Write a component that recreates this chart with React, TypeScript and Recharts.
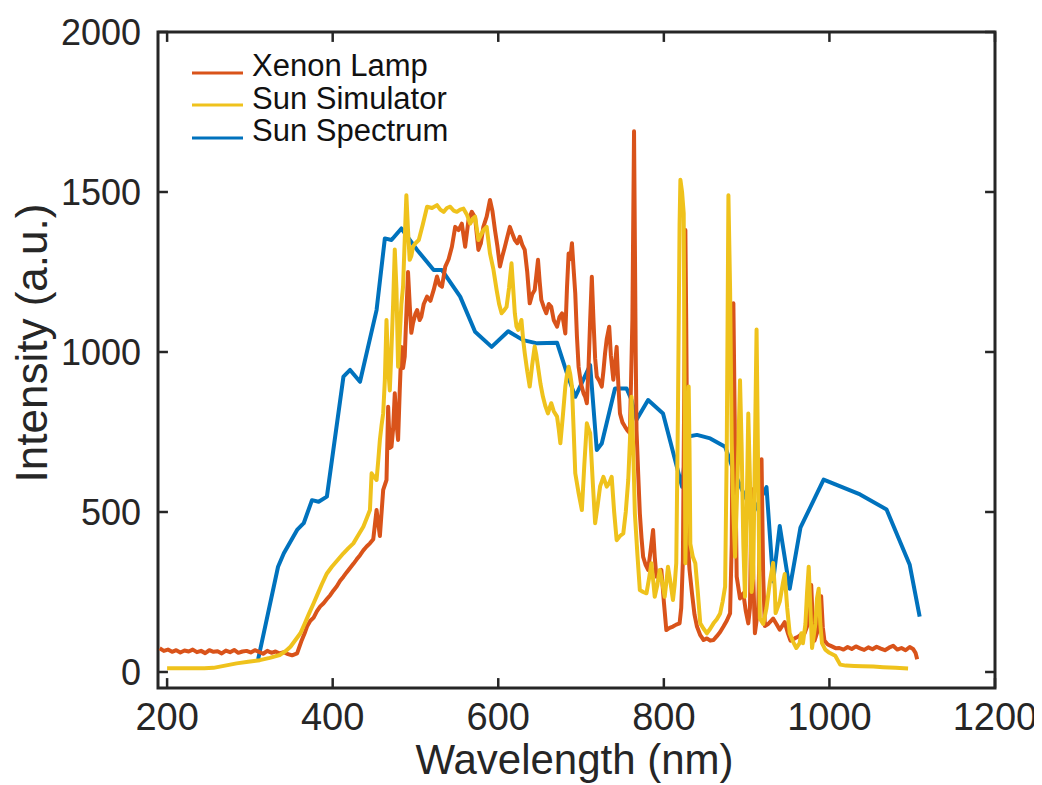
import React from 'react';
import { LineChart, Line, XAxis, YAxis, ReferenceArea, ReferenceLine, Legend } from 'recharts';

// wavelength (nm) / intensity (a.u.)
const xenonWl = [
  191, 196, 201, 206, 211, 216, 221, 226, 231, 236, 241, 246, 251, 256, 261, 266, 271, 276, 281, 286,
  291, 296, 301, 306, 311, 316, 321, 326, 331, 336, 341, 346, 351, 357, 362, 366, 369, 373, 377, 381,
  385, 389, 393, 397, 401, 405, 409, 413, 417, 421, 425, 429, 433, 437, 441, 445, 449, 453, 457, 461,
  465, 467, 469, 471, 473, 475, 477, 479, 481, 483, 485, 487, 489, 491, 493, 495, 497, 500, 502, 505,
  507, 510, 514, 518, 522, 526, 529, 532, 536, 540, 544, 548, 552, 556, 560, 564, 568, 572, 576, 579,
  582, 586, 590, 593, 596, 599, 602, 605, 608, 611, 614, 617, 620, 623, 626, 629, 632, 635, 638, 641,
  644, 646, 648, 650, 652, 655, 658, 661, 664, 667, 671, 674, 677, 679, 681, 683, 685, 687, 689, 691,
  693, 695, 697, 700, 703, 705, 707, 709, 711, 713, 715, 717, 719, 722, 725, 727, 729, 731, 734, 736,
  739, 741, 743, 745, 747, 750, 753, 756, 759, 762, 764, 766, 767, 769, 771, 773, 775, 778, 781, 784,
  787, 789, 791, 794, 797, 800, 803, 807, 811, 815, 819, 821, 823, 825, 826, 827, 829, 831, 834, 837,
  840, 844, 848, 852, 856, 860, 864, 868, 872, 876, 880, 882, 884, 886, 888, 892, 896, 899, 902, 904,
  906, 908, 910, 914, 918, 920, 922, 926, 932, 936, 940, 946, 950, 953, 958, 962, 966, 970, 974, 978,
  980, 982, 986, 990, 992, 994, 998, 1003, 1008, 1012, 1017, 1022, 1027, 1032, 1037, 1042, 1047, 1052, 1057, 1062,
  1067, 1072, 1077, 1082, 1087, 1092, 1097, 1101, 1104, 1106,
];
const xenonI = [
  74, 66, 70, 63, 68, 61, 67, 64, 70, 62, 66, 59, 68, 63, 65, 58, 67, 62, 69, 60,
  64, 66, 61, 68, 63, 57, 66, 60, 64, 58, 62, 56, 52, 58, 95, 120, 142, 160, 170, 190,
  205, 215, 228, 240, 255, 268, 285, 298, 312, 325, 338, 352, 365, 380, 392, 402, 415, 506, 425, 569,
  600, 829, 700, 704, 760, 871, 780, 725, 880, 1016, 950, 985, 1120, 1250, 1150, 1060, 1090, 1120, 1131, 1100,
  1110, 1150, 1173, 1160, 1194, 1236, 1210, 1204, 1267, 1290, 1329, 1391, 1381, 1401, 1329, 1412, 1438, 1420, 1319, 1340,
  1391, 1423, 1475, 1440, 1381, 1330, 1267, 1300, 1329, 1360, 1391, 1370, 1350, 1340, 1360, 1335, 1319, 1250, 1152, 1180,
  1194, 1240, 1288, 1220, 1163, 1140, 1121, 1150, 1141, 1100, 1079, 1110, 1121, 1090, 1058, 1200, 1308, 1290, 1340, 1260,
  1183, 1050, 954, 900, 871, 860, 840, 950, 1100, 1235, 1100, 980, 923, 910, 892, 940, 996, 1040, 1079, 990,
  913, 960, 1016, 900, 808, 780, 767, 755, 746, 1100, 1690, 1000, 756, 620, 496, 420, 360, 335, 319, 380,
  444, 360, 298, 305, 319, 220, 131, 138, 142, 148, 152, 200, 350, 1000, 1381, 1100, 400, 320, 246, 180,
  142, 115, 100, 105, 98, 100, 112, 125, 142, 160, 183, 400, 1152, 700, 298, 230, 246, 190, 152, 200,
  572, 300, 121, 200, 665, 300, 144, 150, 167, 150, 132, 156, 120, 98, 105, 110, 118, 121, 150, 272,
  150, 98, 130, 237, 140, 98, 86, 80, 74, 75, 70, 78, 72, 80, 74, 69, 77, 71, 79, 73,
  68, 76, 82, 70, 75, 68, 78, 72, 60, 40,
];

const simWl = [
  200, 215, 230, 245, 256, 270, 284, 298, 312, 324, 336, 343, 349, 355, 361, 366, 371, 377, 382, 387,
  393, 399, 406, 413, 419, 425, 431, 437, 441, 445, 447, 450, 453, 455, 457, 459, 461, 463, 465, 467,
  469, 471, 473, 475, 477, 479, 481, 483, 485, 487, 489, 491, 493, 495, 497, 500, 504, 509, 514, 520,
  526, 530, 534, 538, 542, 546, 550, 554, 558, 562, 566, 569, 572, 576, 579, 582, 586, 590, 594, 598,
  601, 604, 607, 610, 613, 616, 618, 620, 622, 624, 626, 628, 630, 632, 635, 638, 641, 644, 646, 648,
  651, 654, 657, 660, 662, 664, 667, 671, 673, 675, 678, 681, 683, 685, 687, 689, 691, 693, 697, 701,
  704, 707, 709, 711, 714, 717, 720, 723, 727, 729, 731, 734, 737, 740, 743, 747, 751, 754, 757, 759,
  761, 763, 765, 768, 771, 775, 779, 782, 785, 787, 789, 792, 795, 798, 801, 803, 805, 808, 811, 813,
  815, 817, 819, 820, 822, 824, 825, 826, 828, 830, 831, 832, 835, 838, 841, 844, 848, 852, 856, 860,
  864, 868, 871, 874, 876, 878, 880, 882, 884, 886, 889, 892, 894, 896, 898, 900, 902, 904, 906, 908,
  910, 912, 914, 916, 920, 924, 928, 932, 934, 935, 940, 944, 946, 949, 952, 956, 960, 964, 966, 968,
  971, 973, 975, 977, 979, 983, 985, 987, 989, 991, 995, 1000, 1007, 1013, 1020, 1030, 1040, 1053, 1065, 1080,
  1095,
];
const simI = [
  12, 12, 12, 12, 13, 20, 27, 32, 37, 44, 53, 65, 79, 100, 121, 150, 180, 215, 245, 275,
  308, 329, 350, 371, 387, 402, 428, 454, 480, 506, 621, 610, 600, 660, 725, 770, 808, 912, 1100, 950,
  880, 1010, 1150, 1320, 1200, 954, 1050, 1150, 1204, 1350, 1490, 1380, 1288, 1300, 1329, 1340, 1350, 1400, 1454, 1450,
  1459, 1445, 1438, 1450, 1454, 1442, 1438, 1445, 1448, 1430, 1401, 1415, 1423, 1350, 1365, 1381, 1391, 1308, 1260, 1194,
  1150, 1121, 1130, 1141, 1200, 1277, 1200, 1121, 1080, 1069, 1085, 1100, 1040, 996, 940, 892, 960, 1017, 990, 954,
  900, 860, 830, 808, 825, 840, 815, 798, 760, 715, 800, 892, 930, 954, 930, 892, 760, 621, 560, 506,
  650, 777, 760, 746, 600, 465, 520, 580, 610, 595, 579, 590, 610, 500, 412, 425, 433, 500, 600, 720,
  860, 700, 496, 370, 256, 250, 246, 290, 340, 290, 235, 270, 319, 280, 235, 280, 329, 280, 225, 270,
  340, 800, 1400, 1538, 1500, 1433, 900, 340, 600, 892, 700, 400, 360, 340, 250, 152, 135, 121, 135, 152,
  165, 183, 220, 267, 700, 1490, 1200, 715, 500, 360, 600, 912, 700, 400, 235, 500, 808, 600, 250, 300,
  700, 1070, 600, 167, 150, 200, 280, 341, 260, 184, 220, 280, 306, 200, 121, 95, 75, 90, 121, 90,
  150, 250, 329, 200, 75, 150, 230, 260, 150, 90, 70, 60, 51, 23, 20, 19, 18, 17, 15, 13,
  11,
];

const sunWl = [
  310, 334, 341, 357, 365, 375, 383, 393, 413, 421, 433, 453, 463, 471, 483, 502, 522, 532, 554, 572,
  592, 612, 630, 647, 671, 683, 693, 711, 719, 725, 741, 755, 761, 767, 781, 799, 822, 828, 840, 856,
  874, 884, 896, 908, 924, 932, 940, 952, 965, 993, 1037, 1069, 1097, 1109,
];
const sunI = [
  40, 329, 371, 444, 465, 537, 532, 548, 923, 944, 907, 1131, 1355, 1350, 1386, 1319, 1256, 1256, 1173, 1063,
  1016, 1065, 1037, 1027, 1029, 933, 860, 959, 694, 714, 886, 886, 850, 788, 850, 808, 579, 735, 741, 730,
  704, 631, 560, 497, 578, 283, 456, 260, 451, 601, 555, 508, 335, 173,
];

const xTicks = [200, 400, 600, 800, 1000, 1200];
const yTicks = [0, 500, 1000, 1500, 2000];
const legendOrder = ['Xenon Lamp', 'Sun Simulator', 'Sun Spectrum'];

const X_MIN = 189;
const X_MAX = 1200;
const Y_MIN = -50;
const Y_MAX = 2000;
// inward tick length (about 10px) in data units
const X_TICK_LEN = 31;
const Y_TICK_LEN = 12;

const FONT = '"Liberation Sans", Arial, Helvetica, sans-serif';
const INK = '#262626';
const XENON = '#D9531A';
const SIM = '#EFC21C';
const SUN = '#0072BD';

const toPoints = (wl: number[], vals: number[]) => wl.map((x, i) => ({ x, y: vals[i] }));

const xenonData = toPoints(xenonWl, xenonI);
const simData = toPoints(simWl, simI);
const sunData = toPoints(sunWl, sunI);

const XTitle = (props: any) => {
  const vb = props.viewBox ?? { x: 150, y: 680, width: 837, height: 90 };
  return (
    <text x={vb.x + vb.width / 2 - 2} y={vb.y + 86} textAnchor="middle" fontSize={42} fontFamily={FONT} fill={INK}>
      Wavelength (nm)
    </text>
  );
};

const YTitle = (props: any) => {
  const vb = props.viewBox ?? { x: 20, y: 24, width: 130, height: 656 };
  const bx = vb.x + 19;
  const cy = vb.y + vb.height / 2 - 17;
  return (
    <text x={bx} y={cy} transform={`rotate(-90, ${bx}, ${cy})`} textAnchor="middle" fontSize={44} fontFamily={FONT} fill={INK}>
      Intensity (a.u.)
    </text>
  );
};

const SeriesLegend = ({ payload }: any) => {
  const items = [...(payload ?? [])].sort(
    (a: any, b: any) => legendOrder.indexOf(a.value) - legendOrder.indexOf(b.value)
  );
  return (
    <div style={{ fontFamily: FONT, fontSize: 31, color: '#111' }}>
      {items.map((item: any) => (
        <div key={item.value} style={{ display: 'flex', alignItems: 'center', height: 32.5 }}>
          <svg width={51} height={6} style={{ marginTop: 13 }}>
            <line x1={0} y1={3} x2={51} y2={3} stroke={item.color} strokeWidth={3} />
          </svg>
          <span style={{ marginLeft: 9, lineHeight: '32.5px' }}>{item.value}</span>
        </div>
      ))}
    </div>
  );
};

export default function App() {
  return (
    <div style={{ width: 1030, height: 775, fontFamily: FONT, background: '#fff' }}>
      <LineChart width={1030} height={775} margin={{ top: 24, right: 43, bottom: 5, left: 20 }}>
        <XAxis
          type="number"
          dataKey="x"
          domain={[X_MIN, X_MAX]}
          ticks={xTicks}
          interval={0}
          allowDataOverflow
          axisLine={false}
          tickLine={false}
          tickSize={0}
          tickMargin={15}
          height={90}
          tick={{ fontSize: 38, fill: INK, fontFamily: FONT }}
          label={<XTitle />}
        />
        <YAxis
          type="number"
          domain={[Y_MIN, Y_MAX]}
          ticks={yTicks}
          interval={0}
          allowDataOverflow
          axisLine={false}
          tickLine={false}
          tickSize={0}
          tickMargin={17}
          width={130}
          tick={{ fontSize: 36, fill: INK, fontFamily: FONT }}
          label={<YTitle />}
        />
        <Legend
          layout="horizontal"
          verticalAlign="middle"
          align="center"
          content={<SeriesLegend />}
          wrapperStyle={{ left: 184, top: 42, width: 'auto' }}
        />
        <Line
          name="Sun Spectrum"
          data={sunData}
          dataKey="y"
          type="linear"
          stroke={SUN}
          strokeWidth={4}
          strokeLinejoin="round"
          dot={false}
          activeDot={false}
          isAnimationActive={false}
        />
        <Line
          name="Xenon Lamp"
          data={xenonData}
          dataKey="y"
          type="linear"
          stroke={XENON}
          strokeWidth={4}
          strokeLinejoin="round"
          dot={false}
          activeDot={false}
          isAnimationActive={false}
        />
        <Line
          name="Sun Simulator"
          data={simData}
          dataKey="y"
          type="linear"
          stroke={SIM}
          strokeWidth={4}
          strokeLinejoin="round"
          dot={false}
          activeDot={false}
          isAnimationActive={false}
        />
        {xTicks.map((t) => (
          <ReferenceLine key={`xb${t}`} segment={[{ x: t, y: Y_MIN }, { x: t, y: Y_MIN + X_TICK_LEN }]} stroke={INK} strokeWidth={2.5} />
        ))}
        {xTicks.map((t) => (
          <ReferenceLine key={`xt${t}`} segment={[{ x: t, y: Y_MAX }, { x: t, y: Y_MAX - X_TICK_LEN }]} stroke={INK} strokeWidth={2.5} />
        ))}
        {yTicks.map((t) => (
          <ReferenceLine key={`yl${t}`} segment={[{ x: X_MIN, y: t }, { x: X_MIN + Y_TICK_LEN, y: t }]} stroke={INK} strokeWidth={2.5} />
        ))}
        {yTicks.map((t) => (
          <ReferenceLine key={`yr${t}`} segment={[{ x: X_MAX, y: t }, { x: X_MAX - Y_TICK_LEN, y: t }]} stroke={INK} strokeWidth={2.5} />
        ))}
        <ReferenceArea x1={X_MIN} x2={X_MAX} y1={Y_MIN} y2={Y_MAX} fill="none" stroke={INK} strokeWidth={3} ifOverflow="visible" />
      </LineChart>
    </div>
  );
}
